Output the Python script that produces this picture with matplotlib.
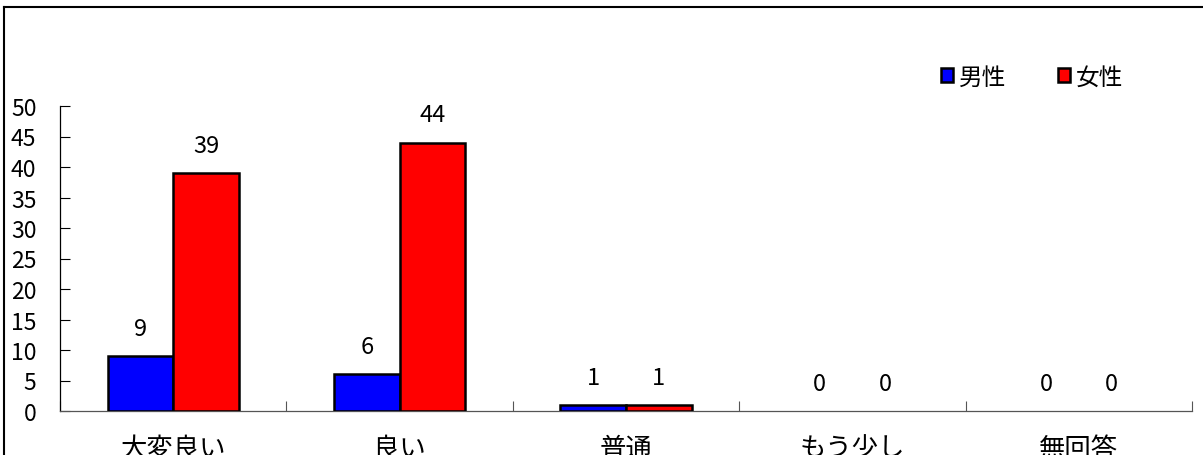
import matplotlib
matplotlib.use("Agg")
import matplotlib.pyplot as plt
from matplotlib.lines import Line2D

plt.rcParams['font.family'] = ['Noto Sans CJK JP', 'DejaVu Sans']

categories = ['大変良い', '良い', '普通', 'もう少し', '無回答']
series_names = ['男性', '女性']
male = [9, 6, 1, 0, 0]
female = [39, 44, 1, 0, 0]
colors = ['#0000FF', '#FF0000']
yticks = [0, 5, 10, 15, 20, 25, 30, 35, 40, 45, 50]

W, H = 1203, 456
fig = plt.figure(figsize=(W / 100, H / 100), dpi=100)
ax = fig.add_axes([60 / W, 1 - 412 / H, (1192 - 60) / W, (412 - 107) / H])

n = len(categories)
bw = 0.29
xs = [i + 0.5 for i in range(n)]
for j, (vals, col, name) in enumerate(zip([male, female], colors, series_names)):
    off = (j - 0.5) * bw
    pos = [x + off for x in xs]
    bars = ax.bar(pos, vals, width=bw, color=col, edgecolor='black', linewidth=1.8,
                  label=name, zorder=3)
    for b, v in zip(bars, vals):
        if v == 0:
            b.set_visible(False)
    for p, v in zip(pos, vals):
        ax.annotate(str(v), (p, v), xytext=(0, 20), textcoords='offset points',
                    ha='center', va='center', fontsize=17)

ax.set_xlim(0, n)
ax.set_ylim(0, 50)
ax.set_yticks(yticks)
ax.tick_params(axis='y', direction='in', length=7, pad=17, labelsize=16.5, width=0.8)
ax.set_xticks(range(n + 1))
ax.set_xticklabels([''] * (n + 1))
ax.tick_params(axis='x', which='major', direction='in', length=7, width=0.8, color='#555555')
ax.set_xticks(xs, minor=True)
ax.set_xticklabels(categories, minor=True)
ax.tick_params(axis='x', which='minor', length=0, pad=17, labelsize=19)

for s in ['top', 'right']:
    ax.spines[s].set_visible(False)
ax.spines['left'].set_linewidth(0.9)
ax.spines['bottom'].set_linewidth(0.9)
ax.spines['bottom'].set_color('#555555')

leg = ax.legend(loc='center left', bbox_to_anchor=(941 / W, 1 - 78 / H), bbox_transform=fig.transFigure,
                ncol=2, frameon=False, fontsize=17, handlelength=0.5, handleheight=0.5,
                handletextpad=0.25, columnspacing=2.2, borderaxespad=0, borderpad=0)

fig.add_artist(Line2D([4 / W, 4 / W], [0, 1 - 8 / H], transform=fig.transFigure, color='black', lw=1.5))
fig.add_artist(Line2D([4 / W, 1], [1 - 8 / H, 1 - 8 / H], transform=fig.transFigure, color='black', lw=1.5))

fig.savefig('out.png', dpi=100)
